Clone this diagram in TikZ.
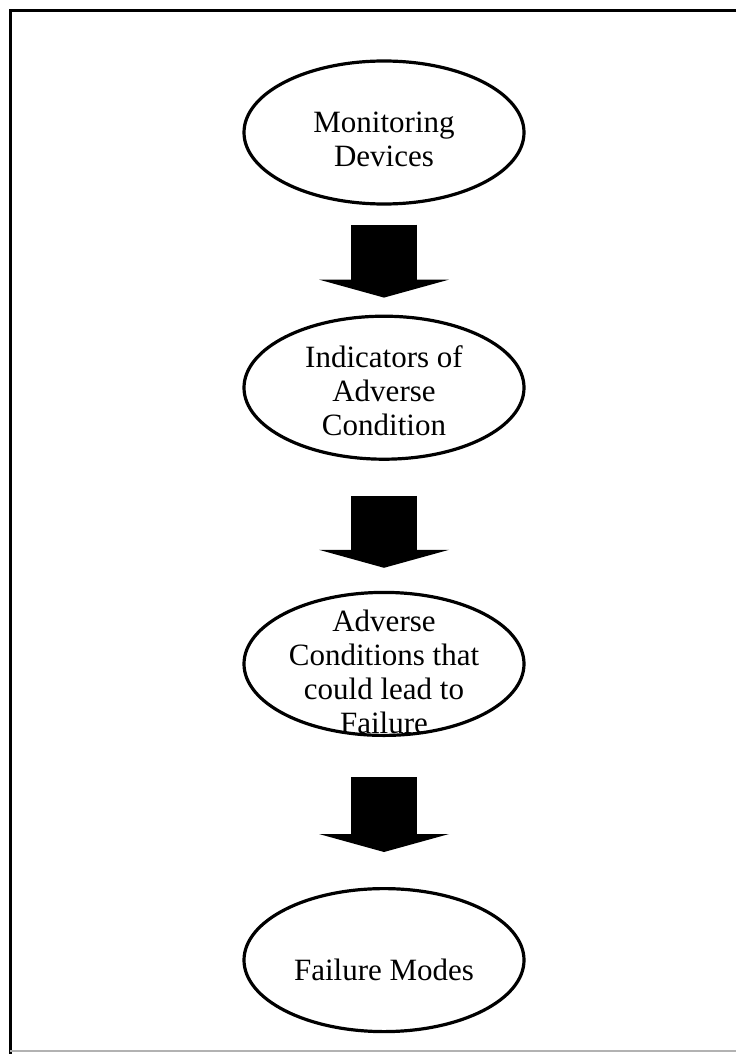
\documentclass[tikz,border=0pt]{standalone}
\usepackage{fontspec}
\setmainfont{Liberation Serif}
\usepackage{tikz}
\usetikzlibrary{positioning, shapes.geometric, arrows.meta}
\tikzstyle{Oval} = [
	ellipse, draw, line width=3.2pt,
	minimum width=280pt, minimum height=143pt,
	inner sep=0pt
	]
\tikzstyle{Label} = [
	align=center, inner sep=0pt,
	font=\fontsize{31pt}{34pt}\selectfont
	]
\tikzstyle{Block} = [
	line width=66pt,
	-{Triangle[width=130pt, length=18pt, line width=0pt]}
	]

\begin{document}
\begin{tikzpicture}[x=1pt, y=1pt]
	\useasboundingbox (0,0) rectangle (736,-1054);
	%frame:
		\draw[line width=3pt] (736,-11) -- (10,-11) -- (10,-1054);
		\draw[line width=2pt, black!30] (10,-1051) -- (736,-1051);
	%nodes:
		\node [Oval] (dev) at (384,-132.5) {};
		\node [Oval, below =109pt of dev] (ind) {};
		\node [Oval, below =130pt of ind] (adv) {};
		\node [Oval, below =150pt of adv] (fail) {};
	%texts:
		\node [Label] (devtext) at ([yshift=-6.5pt]dev.center) {Monitoring\\Devices};
		\node [Label] (indtext) at ([yshift=-3.5pt]ind.center) {Indicators of\\Adverse\\Condition};
		\node [Label] (advtext) at ([yshift=-7.5pt]adv.center) {Adverse\\Conditions that\\could lead to\\Failure};
		\node [Label] (failtext) at ([yshift=-10pt]fail.center) {Failure Modes};
	%edges:
		\draw[Block, shorten <=19pt, shorten >=17pt] (dev.south) -- (ind.north);
		\draw[Block, shorten <=35pt, shorten >=23pt] (ind.south) -- (adv.north);
		\draw[Block, shorten <=40pt, shorten >=35pt] (adv.south) -- (fail.north);
\end{tikzpicture}
\end{document}
